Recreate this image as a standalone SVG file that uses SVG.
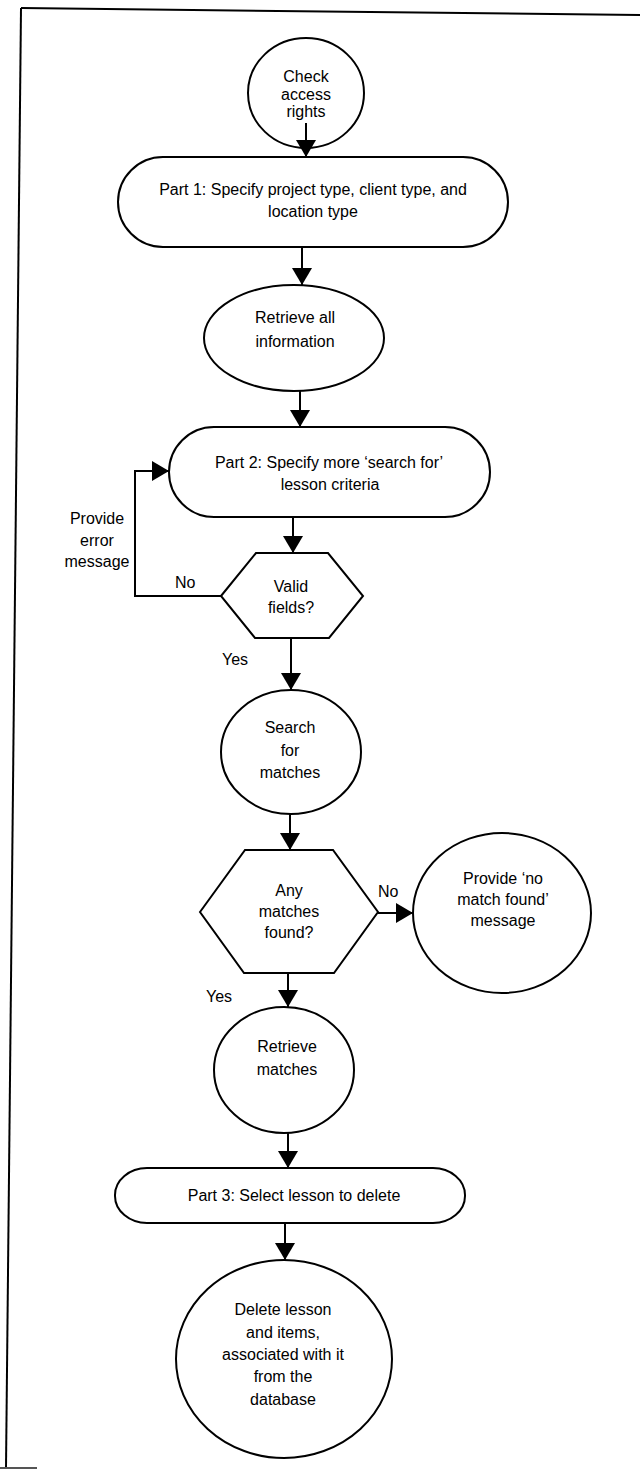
<svg xmlns="http://www.w3.org/2000/svg" width="640" height="1470" viewBox="0 0 640 1470">
<style>
.s{fill:#fff;stroke:#000;stroke-width:2}
.c{fill:none;stroke:#000;stroke-width:2}
.t{font-family:"Liberation Sans",Arial,sans-serif;font-size:16px;fill:#000;text-anchor:middle}
.l{font-family:"Liberation Sans",Arial,sans-serif;font-size:16px;fill:#000}
</style>
<defs>
<marker id="ah" markerUnits="userSpaceOnUse" markerWidth="17" markerHeight="20" viewBox="0 0 17 20" refX="17" refY="10" orient="auto">
<path d="M0,0 L17,10 L0,20 Z" fill="#000"/>
</marker>
</defs>
<rect width="640" height="1470" fill="#fff"/>
<g id="frame" class="c">
<path d="M21,8 L640,15"/>
<path d="M21,8 L6,1468"/>
<path d="M0,1468 L37,1468" stroke="#555"/>
</g>
<g id="check">
<ellipse class="s" cx="306" cy="93" rx="58" ry="55"/>
<text class="t" x="306" y="82">Check</text>
<text class="t" x="306" y="100">access</text>
<text class="t" x="306" y="117">rights</text>
</g>
<g id="part1">
<rect class="s" x="118" y="157" width="390" height="90" rx="45" ry="45"/>
<text class="t" x="313" y="195">Part 1: Specify project type, client type, and</text>
<text class="t" x="313" y="217">location type</text>
</g>
<g id="retrieveAll">
<ellipse class="s" cx="294" cy="338" rx="90" ry="53"/>
<text class="t" x="295" y="323">Retrieve all</text>
<text class="t" x="295" y="347">information</text>
</g>
<g id="part2">
<rect class="s" x="169" y="427" width="321" height="90" rx="45" ry="45"/>
<text class="t" x="329" y="468">Part 2: Specify more ‘search for’</text>
<text class="t" x="330" y="490">lesson criteria</text>
</g>
<g id="valid">
<polygon class="s" points="221,596 256,553 328,553 363,596 329,638 255,638"/>
<text class="t" x="291" y="592">Valid</text>
<text class="t" x="291" y="613">fields?</text>
</g>
<g id="search">
<ellipse class="s" cx="291" cy="752" rx="70" ry="62"/>
<text class="t" x="290" y="733">Search</text>
<text class="t" x="290" y="756">for</text>
<text class="t" x="290" y="778">matches</text>
</g>
<g id="any">
<polygon class="s" points="200,912 245,850 333,850 378,912 334,973 244,973"/>
<text class="t" x="289" y="896">Any</text>
<text class="t" x="289" y="917">matches</text>
<text class="t" x="289" y="938">found?</text>
</g>
<g id="nomatch">
<ellipse class="s" cx="502" cy="913" rx="89" ry="80"/>
<text class="t" x="503" y="884">Provide ‘no</text>
<text class="t" x="503" y="905">match found’</text>
<text class="t" x="503" y="926">message</text>
</g>
<g id="retrieveMatches">
<ellipse class="s" cx="284" cy="1070" rx="70" ry="63"/>
<text class="t" x="287" y="1052">Retrieve</text>
<text class="t" x="287" y="1075">matches</text>
</g>
<g id="part3">
<rect class="s" x="115" y="1168" width="350" height="55" rx="32" ry="27"/>
<text class="t" x="294" y="1201">Part 3: Select lesson to delete</text>
</g>
<g id="delete">
<ellipse class="s" cx="284" cy="1359" rx="108" ry="99"/>
<text class="t" x="283" y="1315">Delete lesson</text>
<text class="t" x="283" y="1338">and items,</text>
<text class="t" x="283" y="1360">associated with it</text>
<text class="t" x="283" y="1382">from the</text>
<text class="t" x="283" y="1405">database</text>
</g>
<g id="connectors" class="c">
<path d="M306,123 V157" marker-end="url(#ah)"/>
<path d="M302,247 V285" marker-end="url(#ah)"/>
<path d="M300,391 V427" marker-end="url(#ah)"/>
<path d="M221,596 H135 V471 H169" marker-end="url(#ah)"/>
<path d="M293,517 V553" marker-end="url(#ah)"/>
<path d="M291,638 V690" marker-end="url(#ah)"/>
<path d="M290,814 V850" marker-end="url(#ah)"/>
<path d="M378,913 H413" marker-end="url(#ah)"/>
<path d="M288,973 V1007" marker-end="url(#ah)"/>
<path d="M288,1133 V1168" marker-end="url(#ah)"/>
<path d="M285,1223 V1260" marker-end="url(#ah)"/>
</g>
<g id="labels">
<text class="t" x="97" y="524">Provide</text>
<text class="t" x="97" y="546">error</text>
<text class="t" x="97" y="567">message</text>
<text class="l" x="175" y="588">No</text>
<text class="l" x="222" y="665">Yes</text>
<text class="l" x="378" y="897">No</text>
<text class="l" x="206" y="1002">Yes</text>
</g>
</svg>
